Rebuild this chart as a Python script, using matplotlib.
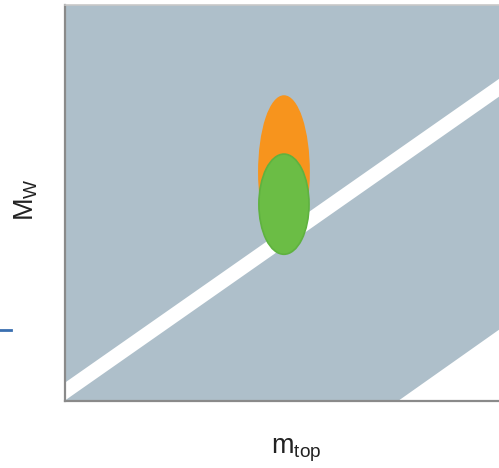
import matplotlib
matplotlib.use("Agg")
import matplotlib.pyplot as plt
from matplotlib.patches import Ellipse, Polygon
from matplotlib.lines import Line2D
import numpy as np

plt.rcParams["font.family"] = ["Liberation Sans", "DejaVu Sans"]
plt.rcParams["mathtext.fontset"] = "custom"
plt.rcParams["mathtext.rm"] = "Liberation Sans"
plt.rcParams["mathtext.it"] = "Liberation Sans"

# Allowed band: M_W = intercept + slope * m_top, with a finite width
band_intercept = 0.026
band_slope = 0.813
band_width = 0.045

# Lower-right allowed corner: M_W < corner_slope * (m_top - corner_x0)
corner_x0 = 0.724
corner_slope = 0.82

# Measurement ellipses: (centre m_top, centre M_W, width, height)
ellipse_names = ["previous", "current"]
ellipse_centers_x = [0.476, 0.476]
ellipse_centers_y = [0.578, 0.497]
ellipse_widths = [0.109, 0.109]
ellipse_heights = [0.384, 0.253]
ellipse_colors = ["#f7941d", "#6bbd45"]
ellipse_edges = ["#f7941d", "#5fb23f"]

W, H = 499, 468
fig = plt.figure(figsize=(W / 100, H / 100), dpi=100)
ax = fig.add_axes([65 / W, 1 - 401 / H, 460 / W, 396 / H])
ax.set_xlim(0, 1)
ax.set_ylim(0, 1)
ax.set_facecolor("#aebfca")
ax.set_xticks([])
ax.set_yticks([])
for s in ["left", "bottom"]:
    ax.spines[s].set_color("#8a8a8a")
    ax.spines[s].set_linewidth(1.6)
ax.spines["top"].set_color("#c8c8c8")
ax.spines["top"].set_linewidth(1.2)
ax.spines["right"].set_visible(False)

# white diagonal band
x = np.array([0.0, 1.0])
yc = band_intercept + band_slope * x
ax.fill_between(x, yc - band_width / 2, yc + band_width / 2, color="white", lw=0)

# white lower-right corner
xr = np.array([corner_x0, 1.0])
yr = corner_slope * (xr - corner_x0)
ax.add_patch(Polygon([[corner_x0, 0], [1.0, yr[1]], [1.0, 0]], closed=True,
                     facecolor="white", edgecolor="none"))

for cx, cy, w, h, fc, ec in zip(ellipse_centers_x, ellipse_centers_y, ellipse_widths,
                                ellipse_heights, ellipse_colors, ellipse_edges):
    ax.add_patch(Ellipse((cx, cy), w, h, facecolor=fc, edgecolor=ec, lw=1.2, zorder=3))

fig.text(26 / W, 1 - 200 / H, r"$\mathrm{M_W}$", rotation=90, ha="center", va="center",
         fontsize=19.5, color="#222222")
fig.text(296 / W, 1 - 450 / H, r"$\mathrm{m_{top}}$", ha="center", va="center",
         fontsize=19.5, color="#222222")

fig.add_artist(Line2D([0, 11 / W], [1 - 330 / H, 1 - 330 / H], color="#3a6fb0", lw=2,
                      transform=fig.transFigure))

fig.savefig("out.png", dpi=100)
